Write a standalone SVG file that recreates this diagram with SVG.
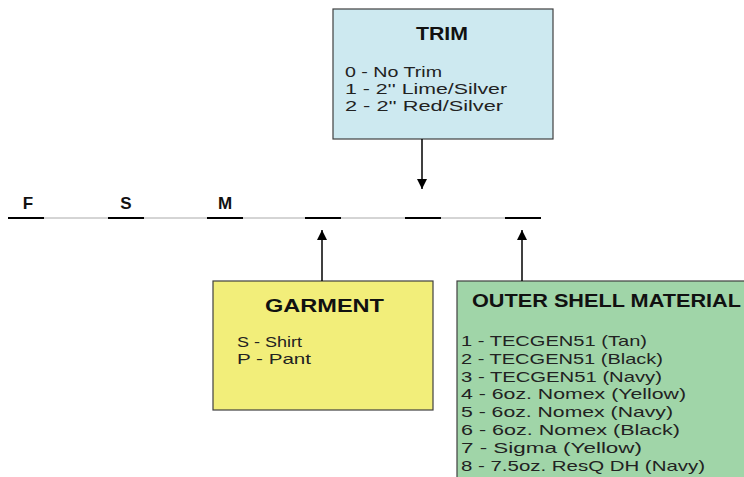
<svg xmlns="http://www.w3.org/2000/svg" width="744" height="477" viewBox="0 0 744 477">
<defs>
<marker id="ah" viewBox="0 0 10 10" refX="10" refY="5" markerWidth="10" markerHeight="10" markerUnits="userSpaceOnUse" orient="auto">
<path d="M0,0 L10,5 L0,10 z" fill="#000"/>
</marker>
</defs>
<style>
.box{stroke:#404040;stroke-width:1.2}
.title{font-family:"Liberation Sans",Arial,sans-serif;font-weight:bold;font-size:19px;fill:#111}
.item{font-family:"Liberation Sans",Arial,sans-serif;font-size:15px;fill:#222}
.slot{font-family:"Liberation Sans",Arial,sans-serif;font-weight:bold;font-size:17px;fill:#111;text-anchor:middle}
.seg{stroke:#000;stroke-width:2}
.conn{stroke:#000;stroke-width:1.5;fill:none}
</style>
<rect width="744" height="477" fill="#fff"/>
<g id="code-line">
<line x1="8" y1="218" x2="541" y2="218" stroke="#aaa" stroke-width="1"/>
<line class="seg" x1="8" y1="218" x2="44" y2="218"/>
<line class="seg" x1="108" y1="218" x2="144" y2="218"/>
<line class="seg" x1="207" y1="218" x2="243" y2="218"/>
<line class="seg" x1="305" y1="218" x2="341" y2="218"/>
<line class="seg" x1="405" y1="218" x2="441" y2="218"/>
<line class="seg" x1="505" y1="218" x2="541" y2="218"/>
<text class="slot" x="28" y="209">F</text>
<text class="slot" x="126" y="209">S</text>
<text class="slot" x="225" y="209">M</text>
</g>
<g id="trim">
<rect class="box" x="333" y="9" width="220" height="130" fill="#CDE9F0"/>
<text class="title" x="416" y="40" textLength="52" lengthAdjust="spacingAndGlyphs">TRIM</text>
<text class="item" x="345" y="77" textLength="97" lengthAdjust="spacingAndGlyphs">0 - No Trim</text>
<text class="item" x="345" y="94" textLength="162" lengthAdjust="spacingAndGlyphs">1 - 2'' Lime/Silver</text>
<text class="item" x="345" y="111" textLength="158" lengthAdjust="spacingAndGlyphs">2 - 2'' Red/Silver</text>
</g>
<g id="garment">
<rect class="box" x="213" y="281" width="220" height="129" fill="#F2EE7A"/>
<text class="title" x="265" y="312" textLength="119" lengthAdjust="spacingAndGlyphs">GARMENT</text>
<text class="item" x="237" y="347" textLength="65" lengthAdjust="spacingAndGlyphs">S - Shirt</text>
<text class="item" x="237" y="364" textLength="74" lengthAdjust="spacingAndGlyphs">P - Pant</text>
</g>
<g id="outer-shell">
<rect class="box" x="457" y="281" width="300" height="210" fill="#A0D5A8"/>
<text class="title" x="472" y="307" textLength="269" lengthAdjust="spacingAndGlyphs">OUTER SHELL MATERIAL</text>
<text class="item" x="461" y="346" textLength="186" lengthAdjust="spacingAndGlyphs">1 - TECGEN51 (Tan)</text>
<text class="item" x="461" y="364" textLength="202" lengthAdjust="spacingAndGlyphs">2 - TECGEN51 (Black)</text>
<text class="item" x="461" y="382" textLength="201" lengthAdjust="spacingAndGlyphs">3 - TECGEN51 (Navy)</text>
<text class="item" x="461" y="399" textLength="225" lengthAdjust="spacingAndGlyphs">4 - 6oz. Nomex (Yellow)</text>
<text class="item" x="461" y="417" textLength="212" lengthAdjust="spacingAndGlyphs">5 - 6oz. Nomex (Navy)</text>
<text class="item" x="461" y="435" textLength="219" lengthAdjust="spacingAndGlyphs">6 - 6oz. Nomex (Black)</text>
<text class="item" x="461" y="453" textLength="181" lengthAdjust="spacingAndGlyphs">7 - Sigma (Yellow)</text>
<text class="item" x="461" y="471" textLength="244" lengthAdjust="spacingAndGlyphs">8 - 7.5oz. ResQ DH (Navy)</text>
</g>
<g id="connectors">
<line class="conn" x1="422" y1="139" x2="422" y2="189" marker-end="url(#ah)"/>
<line class="conn" x1="322" y1="281" x2="322" y2="230" marker-end="url(#ah)"/>
<line class="conn" x1="522" y1="281" x2="522" y2="230" marker-end="url(#ah)"/>
</g>
</svg>
